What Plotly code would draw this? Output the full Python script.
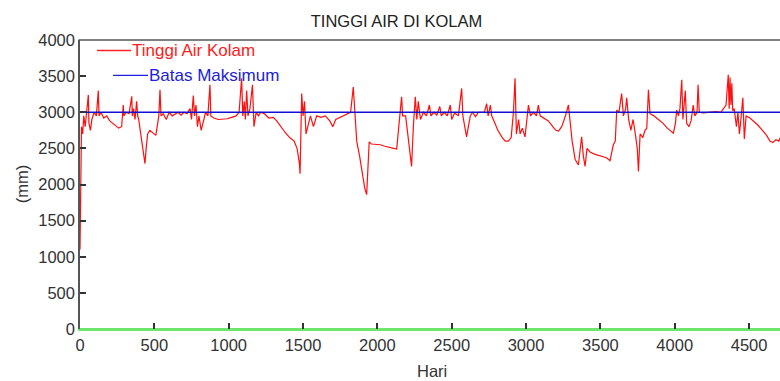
import plotly.graph_objects as go

# ---- data ----
hari = [0, 5, 10, 18, 25, 35, 45, 56, 60, 70, 80, 95, 110, 123, 128, 140, 160, 180, 200, 220,
        240, 260, 280, 291, 295, 310, 330, 348, 352, 360, 370, 381, 388, 395, 405, 415, 425, 437, 445, 455,
        470, 490, 510, 530, 538, 545, 560, 580, 600, 620, 640, 660, 680, 700, 720, 740, 750, 762, 770, 780,
        790, 800, 815, 830, 845, 860, 874, 880, 900, 930, 960, 990, 1020, 1050, 1070, 1087, 1095, 1105, 1112, 1121,
        1130, 1143, 1160, 1170, 1185, 1200, 1215, 1240, 1270, 1300, 1323, 1350, 1380, 1410, 1440, 1460, 1475, 1480, 1491, 1500,
        1510, 1520, 1535, 1550, 1570, 1592, 1620, 1650, 1680, 1700, 1720, 1750, 1780, 1800, 1820, 1838, 1848, 1861, 1880, 1900,
        1915, 1928, 1935, 1945, 1960, 1990, 2020, 2050, 2080, 2110, 2130, 2150, 2163, 2170, 2190, 2210, 2230, 2242, 2255, 2265,
        2275, 2290, 2310, 2330, 2350, 2360, 2380, 2400, 2420, 2430, 2450, 2470, 2490, 2500, 2520, 2545, 2567, 2575, 2590, 2600,
        2612, 2625, 2640, 2660, 2680, 2700, 2720, 2735, 2745, 2760, 2769, 2790, 2810, 2840, 2860, 2881, 2900, 2915, 2926, 2935,
        2950, 2960, 2975, 2993, 3005, 3016, 3030, 3050, 3070, 3083, 3095, 3120, 3150, 3180, 3200, 3218, 3240, 3265, 3285, 3295,
        3310, 3330, 3352, 3362, 3374, 3385, 3397, 3410, 3430, 3460, 3490, 3510, 3540, 3565, 3587, 3600, 3610, 3625, 3643, 3655,
        3670, 3677, 3690, 3705, 3720, 3735, 3748, 3756, 3767, 3785, 3800, 3812, 3823, 3834, 3860, 3890, 3920, 3950, 3970, 3991,
        4005, 4013, 4025, 4035, 4047, 4055, 4063, 4071, 4080, 4095, 4110, 4124, 4135, 4150, 4157, 4165, 4190, 4220, 4250, 4280,
        4310, 4330, 4345, 4360, 4366, 4372, 4378, 4384, 4390, 4400, 4415, 4425, 4435, 4445, 4458, 4468, 4480, 4506, 4530, 4560,
        4590, 4618, 4640, 4660, 4680, 4700, 4710]
tinggi = [1100, 2600, 2800, 2700, 2950, 2800, 3000, 3240, 2850, 2750, 2900, 3000, 2950, 3300, 2950, 3000, 2920, 2950, 2880, 2850,
          2820, 2780, 2800, 3100, 2950, 3000, 2980, 3220, 2950, 3050, 2900, 3150, 2950, 2900, 2750, 2600, 2450, 2290, 2500, 2700,
          2750, 2720, 2680, 2950, 3310, 2950, 2980, 2900, 3000, 2950, 2980, 3000, 2960, 3000, 2980, 3050, 2900, 3230, 2950, 3100,
          2800, 2950, 2750, 2900, 3000, 2950, 3380, 2950, 2920, 2900, 2900, 2910, 2930, 2950, 3000, 3470, 2950, 3150, 2900, 3300,
          2950, 3050, 3380, 2800, 3000, 2950, 3000, 2980, 2920, 2930, 2880, 2800, 2720, 2650, 2600, 2500, 2300, 2150, 3260, 2950,
          3150, 2700, 2850, 2950, 2800, 2950, 2930, 2950, 2880, 2800, 2900, 2930, 2960, 2980, 3000, 3350, 3000, 2600, 2400, 2150,
          1950, 1860, 2100, 2590, 2560, 2560, 2550, 2530, 2520, 2500, 2490, 2900, 3215, 2950, 2950, 2600, 2250, 2800, 3215, 2900,
          3150, 2900, 3000, 2950, 3100, 2950, 3000, 2960, 3080, 2950, 3000, 2950, 3100, 2900, 2990, 2950, 3330, 2950, 2800, 2660,
          2800, 2950, 3000, 2940, 3000, 3000, 3000, 3120, 2950, 3100, 2950, 2850, 2750, 2650, 2600, 2600, 2650, 3000, 3470, 2700,
          2900, 2700, 2780, 2660, 2950, 3100, 2950, 3000, 2950, 3100, 2950, 2920, 2880, 2800, 2750, 2740, 2800, 2950, 3100, 2900,
          2600, 2350, 2270, 2450, 2660, 2400, 2250, 2500, 2450, 2420, 2400, 2380, 2370, 2330, 2550, 2600, 3030, 3000, 3260, 2950,
          3050, 3200, 2900, 2750, 2900, 2700, 2500, 2180, 2700, 2650, 2750, 2780, 3310, 2980, 2950, 2900, 2850, 2780, 2740, 2710,
          2850, 3030, 2950, 3050, 3450, 2900, 3100, 3300, 2850, 2800, 2880, 3100, 2950, 3000, 3380, 3000, 2990, 3000, 3000, 3010,
          3000, 3050, 3100, 3520, 3050, 3480, 3100, 3400, 3020, 3050, 2800, 3000, 2700, 2900, 3200, 2630, 2950, 2920, 2880, 2820,
          2750, 2680, 2600, 2580, 2620, 2600, 2650]
batas_x = [0, 4710]
batas_y = [3000, 3000]
nol_x = [0, 4710]
nol_y = [0, 0]
y_ticks = [0, 500, 1000, 1500, 2000, 2500, 3000, 3500, 4000]
x_ticks = [0, 500, 1000, 1500, 2000, 2500, 3000, 3500, 4000, 4500]

FONT = "Liberation Sans, Arial, sans-serif"
GREEN = "rgb(110,230,110)"
W, H = 780, 381
L, R, T, B = 80, 0, 39.5, 52
PW, PH = W - L - R, H - T - B


def px(x):
    return (x - L) / PW


def py(y):
    return (H - B - y) / PH


fig = go.Figure()
fig.add_trace(go.Scatter(x=nol_x, y=nol_y, mode="lines",
                         line=dict(color=GREEN, width=2.2), showlegend=False))
fig.add_trace(go.Scatter(x=hari, y=tinggi, mode="lines",
                         line=dict(color="#ff1010", width=1.2), showlegend=False))
fig.add_trace(go.Scatter(x=batas_x, y=batas_y, mode="lines",
                         line=dict(color="#1010d0", width=1.3), showlegend=False))

axis_common = dict(showgrid=False, zeroline=False, showline=True,
                   linewidth=1.5, ticks="inside", ticklen=6, tickcolor="#333333", tickwidth=1.5,
                   tickfont=dict(family=FONT, size=16.5, color="#333333"))

fig.update_xaxes(range=[0, 4708], tickvals=x_ticks, linecolor=GREEN, **axis_common)
fig.update_yaxes(range=[0, 4000], tickvals=y_ticks, linecolor="#555555", **axis_common)

annotations = [
    dict(text="Hari", x=px(432), y=py(371), xref="paper", yref="paper", showarrow=False,
         font=dict(family=FONT, size=16.5, color="#333333"), xanchor="center", yanchor="middle"),
    dict(text="(mm)", x=px(22), y=py(184), xref="paper", yref="paper", showarrow=False, textangle=-90,
         font=dict(family=FONT, size=16.5, color="#333333"), xanchor="center", yanchor="middle"),
    dict(text="Tinggi Air Kolam", x=px(130), y=py(50), xref="paper", yref="paper", showarrow=False,
         font=dict(family=FONT, size=17, color="#ff2020"), xanchor="left", yanchor="middle"),
    dict(text="Batas Maksimum", x=px(147), y=py(75), xref="paper", yref="paper", showarrow=False,
         font=dict(family=FONT, size=17, color="#2020e0"), xanchor="left", yanchor="middle"),
]
shapes = [
    dict(type="line", xref="paper", yref="paper", x0=px(78.5), x1=1, y0=1, y1=1,
         line=dict(color="#555555", width=1.5)),
    dict(type="line", xref="paper", yref="paper", x0=px(97), x1=px(131), y0=py(50), y1=py(50),
         line=dict(color="#ff2020", width=1.3)),
    dict(type="line", xref="paper", yref="paper", x0=px(113), x1=px(148), y0=py(75), y1=py(75),
         line=dict(color="#2020e0", width=1.3)),
]

fig.update_layout(
    width=W, height=H,
    margin=dict(l=L, r=R, t=T, b=B, pad=0),
    paper_bgcolor="white", plot_bgcolor="white",
    title=dict(text="TINGGI AIR DI KOLAM", x=396.5 / W, y=1 - 21.5 / H, xanchor="center", yanchor="middle",
               xref="container", yref="container",
               font=dict(family=FONT, size=16.5, color="#222222")),
    annotations=annotations, shapes=shapes, showlegend=False,
)

fig.write_html("out.html")
